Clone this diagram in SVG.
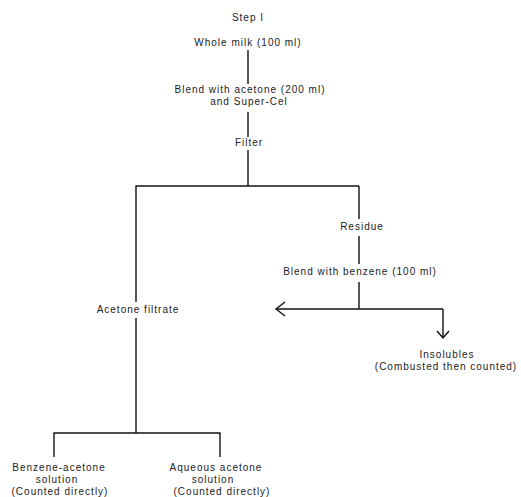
<svg xmlns="http://www.w3.org/2000/svg" width="521" height="497" viewBox="0 0 521 497">
<style>
text{font-family:"Liberation Sans",Arial,sans-serif;font-size:10px;letter-spacing:1px;fill:#222;text-anchor:middle}
.c line,.c polyline{stroke:#111;stroke-width:1.4;fill:none}
</style>
<rect width="521" height="497" fill="#fff"/>
<g class="c" id="connectors">
<line x1="248" y1="50" x2="248" y2="84"/>
<line x1="248" y1="112" x2="248" y2="137"/>
<line x1="248" y1="150" x2="248" y2="186"/>
<line x1="135.5" y1="186" x2="359" y2="186" stroke-width="2"/>
<line x1="136" y1="186" x2="136" y2="302"/>
<line x1="136" y1="318" x2="136" y2="433"/>
<line x1="359" y1="186" x2="359" y2="219"/>
<line x1="359" y1="236" x2="359" y2="264"/>
<line x1="359" y1="282" x2="359" y2="309"/>
<line x1="276" y1="309" x2="443" y2="309"/>
<polyline points="285,302 276,309 285,316"/>
<line x1="443" y1="309" x2="443" y2="337"/>
<polyline points="437,331 443,338 449,331"/>
<line x1="53.5" y1="433" x2="220.5" y2="433" stroke-width="2"/>
<line x1="54" y1="433" x2="54" y2="457"/>
<line x1="220" y1="433" x2="220" y2="457"/>
</g>
<g id="step"><text x="248" y="21">Step I</text></g>
<g id="milk"><text x="248" y="46">Whole milk (100 ml)</text></g>
<g id="blend1"><text x="250" y="93">Blend with acetone (200 ml)</text><text x="249" y="105">and Super-Cel</text></g>
<g id="filter"><text x="249" y="146">Filter</text></g>
<g id="residue"><text x="362" y="230">Residue</text></g>
<g id="blend2"><text x="360" y="275">Blend with benzene (100 ml)</text></g>
<g id="filtrate"><text x="138" y="313">Acetone filtrate</text></g>
<g id="insolubles"><text x="447" y="358">Insolubles</text><text x="446" y="370">(Combusted then counted)</text></g>
<g id="benzacet"><text x="59" y="471">Benzene-acetone</text><text x="57" y="483">solution</text><text x="60" y="495">(Counted directly)</text></g>
<g id="aqueous"><text x="216" y="471">Aqueous acetone</text><text x="213" y="483">solution</text><text x="222" y="495">(Counted directly)</text></g>
</svg>
